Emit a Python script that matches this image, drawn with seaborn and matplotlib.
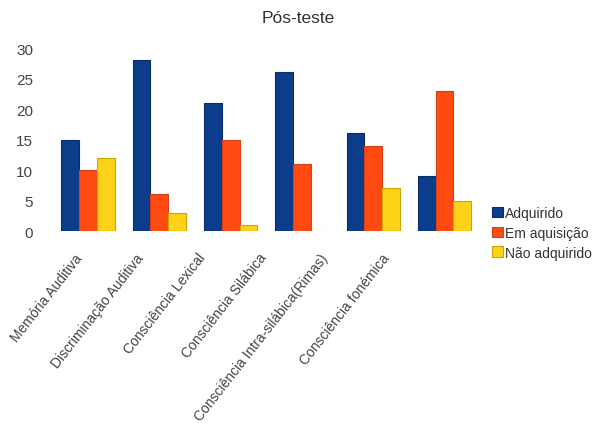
import matplotlib
matplotlib.use("Agg")
import matplotlib.pyplot as plt
import matplotlib.transforms as mtransforms
import seaborn as sns
import pandas as pd
from matplotlib.patches import Patch

categorias = [
    "Memória Auditiva",
    "Discriminação Auditiva",
    "Consciência Lexical",
    "Consciência Silábica",
    "Consciência Intra-silábica(Rimas)",
    "Consciência fonémica",
]
adquirido = [15, 28, 21, 26, 16, 9]
em_aquisicao = [10, 6, 15, 11, 14, 23]
nao_adquirido = [12, 3, 1, 0, 7, 5]
series = ["Adquirido", "Em aquisição", "Não adquirido"]
cores = ["#0b3d8c", "#ff4a12", "#ffd21a"]
bordas = ["#0a2f66", "#d8401a", "#c9a800"]
y_ticks = [0, 5, 10, 15, 20, 25, 30]

df = pd.DataFrame({
    "Categoria": categorias * 3,
    "Série": [s for s, vals in zip(series, [adquirido, em_aquisicao, nao_adquirido]) for _ in vals],
    "Valor": adquirido + em_aquisicao + nao_adquirido,
})

sns.set_theme(style="white")
plt.rcParams["font.family"] = ["Liberation Sans", "DejaVu Sans"]

fig = plt.figure(figsize=(5.99, 4.31), dpi=100)
ax = fig.add_axes([0.0876, 0.4617, 0.714, 0.4245])

sns.barplot(data=df, x="Categoria", y="Valor", hue="Série", hue_order=series,
            palette=cores, width=0.75, saturation=1, ax=ax, legend=False)

for cont, ec in zip(ax.containers, bordas):
    for p in cont.patches:
        p.set_edgecolor(ec)
        p.set_linewidth(0.8)

ax.set_ylim(0, 30)
ax.set_yticks(y_ticks)
ax.set_yticklabels([str(v) for v in y_ticks], fontsize=11, color="#444444")
ax.tick_params(axis="y", length=0, pad=14)
ax.tick_params(axis="x", length=0, pad=14)
ax.set_xticks(range(len(categorias)))
labels = ax.set_xticklabels(categorias, rotation=52, ha="right", rotation_mode="anchor",
                            fontsize=10, color="#444444")
# category labels sit on a slightly tighter pitch than the bar groups
for i, lab in enumerate(labels):
    shift = mtransforms.ScaledTranslation((-14 - 9.8 * i) / 100, 0, fig.dpi_scale_trans)
    lab.set_transform(lab.get_transform() + shift)
ax.set_xlabel("")
ax.set_ylabel("")
for s in ax.spines.values():
    s.set_visible(False)

fig.text(0.498, 0.956, "Pós-teste", ha="center", va="center", fontsize=12.5, color="#333333")

handles = [Patch(facecolor=c, edgecolor=e, linewidth=0.8) for c, e in zip(cores, bordas)]
fig.legend(handles, series, loc="upper left", bbox_to_anchor=(0.822, 0.52),
           frameon=False, fontsize=10, handlelength=0.75, handleheight=0.8,
           handletextpad=0.15, labelspacing=0.42, borderaxespad=0, borderpad=0,
           labelcolor="#333333")

fig.savefig("out.png", dpi=100)
